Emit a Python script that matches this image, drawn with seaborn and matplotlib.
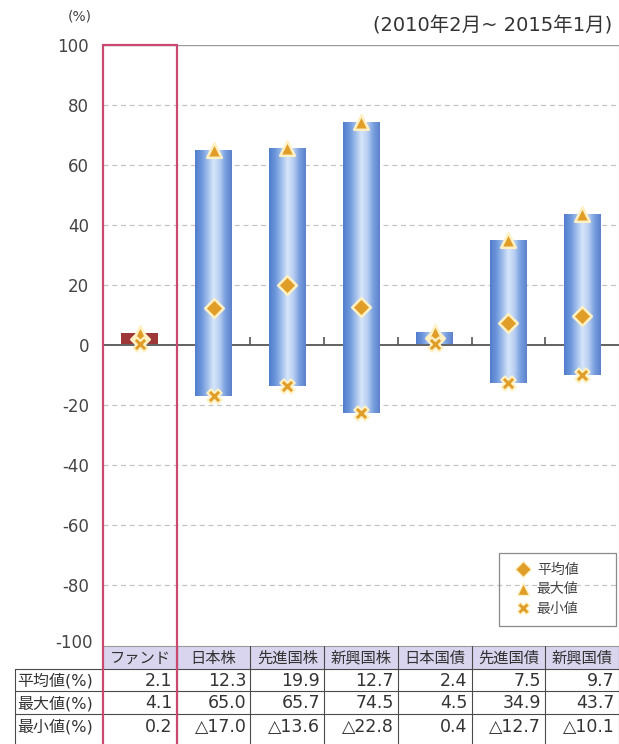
import numpy as np
import pandas as pd
import matplotlib
matplotlib.use("Agg")
import matplotlib.pyplot as plt
import seaborn as sns
from matplotlib.patches import Rectangle
from matplotlib.lines import Line2D

# ---- data ----
categories = ["ファンド", "日本株", "先進国株", "新興国株", "日本国債", "先進国債", "新興国債"]
mean_vals = [2.1, 12.3, 19.9, 12.7, 2.4, 7.5, 9.7]
max_vals = [4.1, 65.0, 65.7, 74.5, 4.5, 34.9, 43.7]
min_vals = [0.2, -17.0, -13.6, -22.8, 0.4, -12.7, -10.1]
row_labels = ["平均値(%)", "最大値(%)", "最小値(%)"]
legend_labels = ["平均値", "最大値", "最小値"]
yticks = [100, 80, 60, 40, 20, 0, -20, -40, -60, -80, -100]
title_text = "(2010年2月~ 2015年1月)"
unit_text = "(%)"

sns.set_theme(style="white")
plt.rcParams['font.family'] = ['DejaVu Sans', 'Noto Sans CJK JP']

W, H = 619, 744
fig = plt.figure(figsize=(W / 100, H / 100), dpi=100)
fig.patch.set_facecolor("white")

ax_left, ax_right, ax_top, ax_bot = 103, 619, 45, 645
ax = fig.add_axes([ax_left / W, 1 - ax_bot / H, (ax_right - ax_left) / W, (ax_bot - ax_top) / H])

df = pd.DataFrame({"cat": categories, "mean": mean_vals, "max": max_vals, "min": min_vals})
xpos = np.arange(len(categories))

# grid lines
for v in yticks:
    if v in (100, -100, 0):
        continue
    ax.axhline(v, color="#c4c4c4", lw=0.9, ls=(0, (4, 3)), zorder=0)
ax.axhline(100, color="#9a9a9a", lw=1.0, zorder=1)

# bars (floating from min to max)
bar_colors = ["#9e3838"] + ["#6d95d6"] * (len(categories) - 1)
bars = ax.bar(xpos, df["max"] - df["min"], bottom=df["min"], width=0.5,
              color=bar_colors, edgecolor="none", zorder=2)

# gradient fill on blue bars
grad_cols = np.array([
    [0.32, 0.49, 0.80], [0.42, 0.59, 0.86], [0.62, 0.74, 0.92],
    [0.84, 0.90, 0.98], [0.72, 0.81, 0.95], [0.47, 0.62, 0.87], [0.36, 0.51, 0.80]])
t = np.linspace(0, 1, 64)
tk = np.linspace(0, 1, len(grad_cols))
grad = np.stack([np.interp(t, tk, grad_cols[:, c]) for c in range(3)], axis=-1)[None, :, :]
for i, b in enumerate(bars):
    if i == 0:
        continue
    x0, y0 = b.get_x(), b.get_y()
    im = ax.imshow(grad, extent=[x0, x0 + b.get_width(), y0, y0 + b.get_height()],
                   aspect="auto", zorder=2.1, interpolation="bilinear")
    im.set_clip_path(b)

# zero line and small ticks
ax.axhline(0, color="#555555", lw=1.3, zorder=1.5)
ax.vlines(xpos[1:-1] + 0.5, 0, 2.6, color="#555555", lw=1.2, zorder=1.5)

# markers
mk_color = "#e09e28"
halo = "#fff1c4"
sns.scatterplot(data=df, x=xpos, y="mean", marker="D", s=90, color=mk_color,
                edgecolor=halo, linewidth=1.8, zorder=5, ax=ax)
sns.scatterplot(data=df, x=xpos, y="max", marker="^", s=110, color=mk_color,
                edgecolor=halo, linewidth=1.8, zorder=5, ax=ax)
sns.scatterplot(data=df, x=xpos, y="min", marker="X", s=105, color=mk_color,
                edgecolor=halo, linewidth=1.5, zorder=5, ax=ax)

ax.set_xlim(-0.5, len(categories) - 0.5)
ax.set_ylim(-100, 100)
ax.set_xticks([])
ax.set_yticks(yticks[:-1])
ax.set_yticklabels([str(v) for v in yticks[:-1]], color="#444444", fontsize=12)
ax.tick_params(axis="y", length=0, pad=10)
ax.set_xlabel("")
ax.set_ylabel("")
for s in ["left", "bottom", "top"]:
    ax.spines[s].set_visible(False)
ax.spines["right"].set_color("#bbbbbb")
ax.spines["right"].set_linewidth(0.8)

# legend (frame drawn separately below)
handles = [
    Line2D([], [], marker="D", ls="none", color=mk_color, markeredgecolor=halo, markersize=8),
    Line2D([], [], marker="^", ls="none", color=mk_color, markeredgecolor=halo, markersize=9),
    Line2D([], [], marker="X", ls="none", color=mk_color, markeredgecolor=halo, markersize=9),
]
leg_box = (499, 553, 616, 626)  # px: left, top, right, bottom
lcx = ((leg_box[0] + leg_box[2]) / 2 - ax_left) / (ax_right - ax_left)
lcy = (ax_bot - (leg_box[1] + leg_box[3]) / 2) / (ax_bot - ax_top)
leg = ax.legend(handles, legend_labels, loc="center", bbox_to_anchor=(lcx - 0.02, lcy),
                frameon=False, fontsize=10, handlelength=1.0,
                handletextpad=0.5, borderpad=0.0, labelspacing=0.4, labelcolor="#444444")

# ---- overlay for table, frames and texts (pixel coordinates) ----
ov = fig.add_axes([0, 0, 1, 1], zorder=10)
ov.set_xlim(0, W)
ov.set_ylim(H, 0)
ov.axis("off")
ov.patch.set_alpha(0)

ov.add_patch(Rectangle((leg_box[0], leg_box[1]), leg_box[2] - leg_box[0], leg_box[3] - leg_box[1],
                       facecolor="none", edgecolor="#8a8a8a", lw=0.9, zorder=1))

n = len(categories)
colw = (ax_right - ax_left) / n
col_edges = [ax_left + i * colw for i in range(n + 1)]
hdr_top, hdr_bot = 646, 669
row_edges = [669, 691, 714, 744]
lab_left = 15
line_c = "#4a4a4a"

# header fill
ov.add_patch(Rectangle((ax_left, hdr_top), ax_right - ax_left, hdr_bot - hdr_top,
                       facecolor="#d9d5ee", edgecolor="none", zorder=1))
ov.plot([ax_left, ax_right], [hdr_top, hdr_top], color="#9a9a9a", lw=0.8, zorder=2)
for i, c in enumerate(categories):
    ov.text((col_edges[i] + col_edges[i + 1]) / 2, (hdr_top + hdr_bot) / 2 + 0.5, c,
            ha="center", va="center", fontsize=11, color="#333333", zorder=3)

# horizontal table lines
for y in [hdr_bot] + row_edges[1:-1]:
    ov.plot([lab_left, ax_right], [y, y], color=line_c, lw=0.8, zorder=2)
# vertical table lines
ov.plot([lab_left, lab_left], [hdr_bot, H], color=line_c, lw=0.8, zorder=2)
for xe in col_edges[1:-1]:
    ov.plot([xe, xe], [hdr_top, H], color=line_c, lw=0.8, zorder=2)
ov.plot([ax_right - 0.5, ax_right - 0.5], [hdr_top, H], color=line_c, lw=0.8, zorder=2)


def fmt(v):
    return f"{v:.1f}" if v >= 0 else f"△{abs(v):.1f}"


rows = [mean_vals, max_vals, min_vals]
for r, (lab, vals) in enumerate(zip(row_labels, rows)):
    yc = (row_edges[r] + row_edges[r + 1]) / 2 + 1 if r < 2 else row_edges[r] + 12.5
    ov.text(lab_left + 2, yc, lab, ha="left", va="center", fontsize=11.5, color="#333333")
    for i, v in enumerate(vals):
        ov.text(col_edges[i + 1] - 4, yc, fmt(v), ha="right", va="center",
                fontsize=12.5, color="#333333")

# -100 label
ov.text(93, 643, "-100", ha="right", va="center", fontsize=12, color="#444444")

# pink frame around fund column
pink = "#c94a6e"
ov.plot([ax_left, ax_left], [ax_top, H], color=pink, lw=1.6, zorder=4)
ov.plot([col_edges[1], col_edges[1]], [ax_top, H], color=pink, lw=1.6, zorder=4)
ov.plot([ax_left, col_edges[1]], [ax_top, ax_top], color=pink, lw=1.6, zorder=4)

# titles
ov.text(80, 17, unit_text, ha="center", va="center", fontsize=10, color="#444444")
ov.text(612, 25, title_text, ha="right", va="center", fontsize=14, color="#333333")

fig.savefig("out.png", dpi=100, facecolor="white")
